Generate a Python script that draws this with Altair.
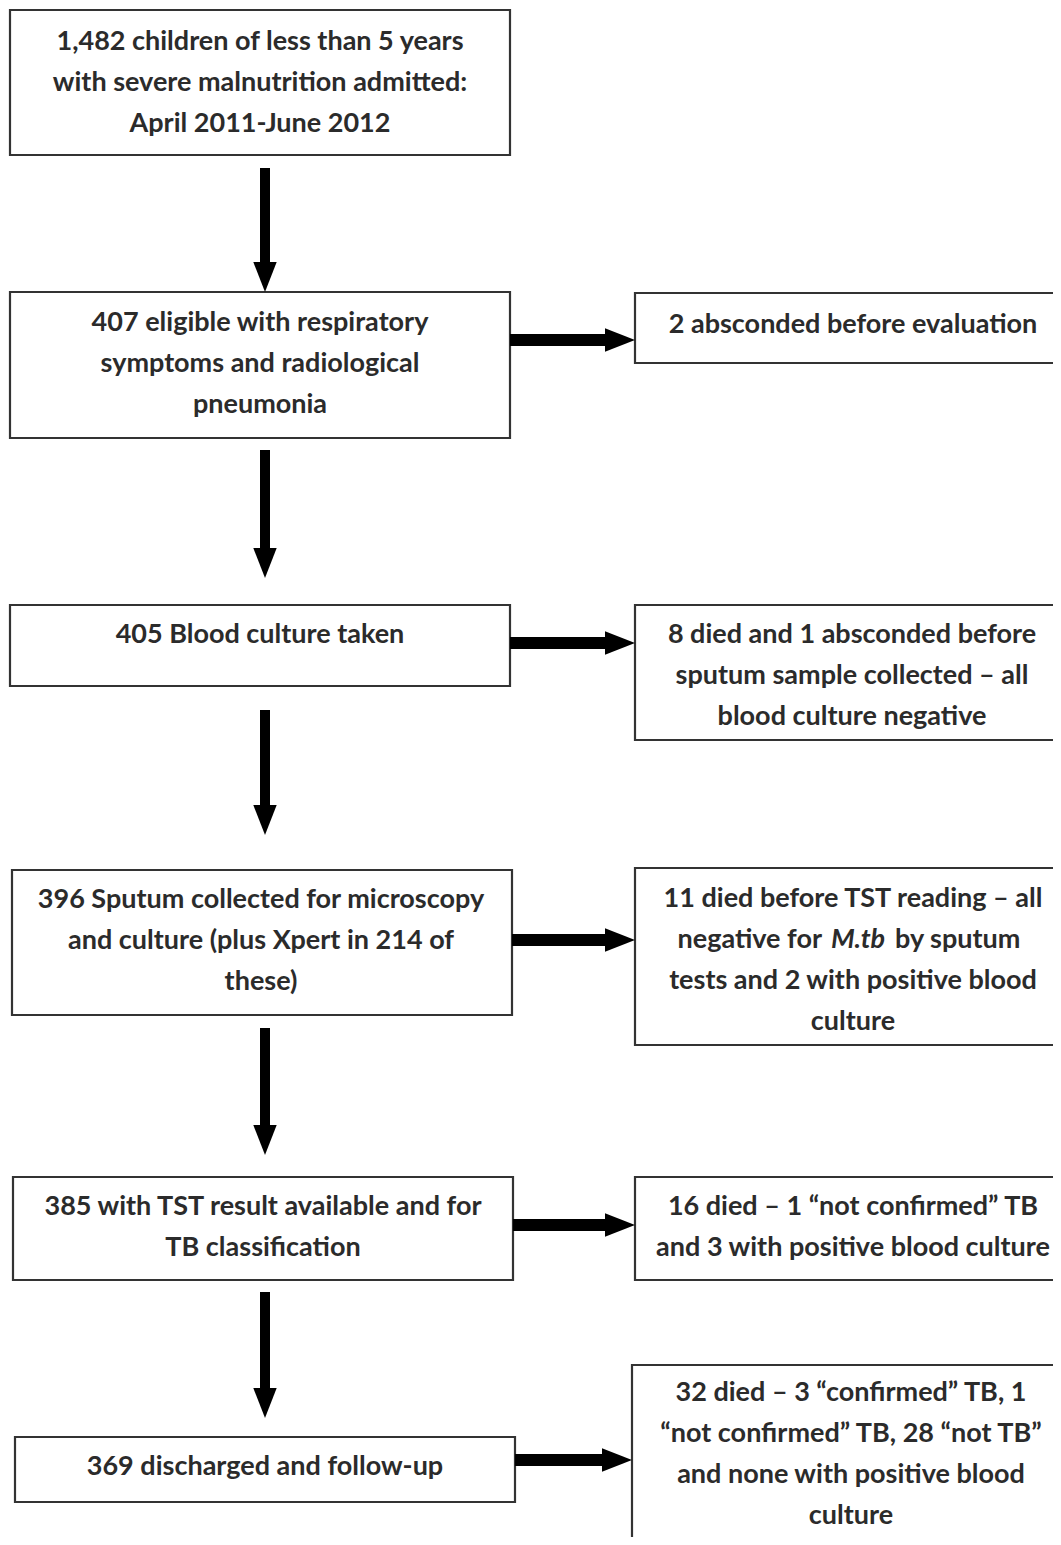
import altair as alt
import pandas as pd

# ---- flowchart content ----
main_lines = [
    ["1,482 children of less than 5 years", "with severe malnutrition admitted:", "April 2011-June 2012"],
    ["407 eligible with respiratory", "symptoms and radiological", "pneumonia"],
    ["405 Blood culture taken"],
    ["396 Sputum collected for microscopy", "and culture (plus Xpert in 214 of", "these)"],
    ["385 with TST result available and for", "TB classification"],
    ["369 discharged and follow-up"],
]
side_lines = [
    None,
    ["2 absconded before evaluation"],
    ["8 died and 1 absconded before", "sputum sample collected \u2013 all", "blood culture negative"],
    ["11 died before TST reading \u2013 all", None, "tests and 2 with positive blood", "culture"],
    ["16 died \u2013 1 \u201cnot confirmed\u201d TB", "and 3 with positive blood culture"],
    ["32 died \u2013 3 \u201cconfirmed\u201d TB, 1", "\u201cnot confirmed\u201d TB, 28 \u201cnot TB\u201d",
     "and none with positive blood", "culture"],
]
# mixed-style line (italic organism name): "negative for M.tb by sputum"
mixed_before = "negative for"
mixed_italic = "M.tb"
mixed_after = "by sputum"

# ---- layout (image pixel coordinates) ----
main_x1 = [10, 10, 10, 12, 13, 15]
main_x2 = [510, 510, 510, 512, 513, 515]
main_y1 = [10, 292, 605, 870, 1177, 1437]
main_y2 = [155, 438, 686, 1015, 1280, 1502]
main_tx = [260, 260, 260, 261, 263, 265]
main_ty0 = [42, 323, 635, 900, 1207, 1467]

side_x1 = [None, 635, 635, 635, 635, 632]
side_y1 = [None, 293, 605, 868, 1177, 1365]
side_y2 = [None, 363, 740, 1045, 1280, 1560]
side_tx = [None, 853, 852, 853, 853, 851]
side_ty0 = [None, 325, 635, 899, 1207, 1393]
line_gap = 41
mixed_x = [822, 858, 895]  # right edge / centre / left edge of the three pieces

down_x = [265, 265, 265, 265, 265]
down_y0 = [168, 450, 710, 1028, 1292]
down_tip = [292, 578, 835, 1155, 1418]

right_y = [340, 643, 940, 1225, 1460]
right_x0 = [510, 510, 512, 513, 515]
right_tip = [635, 635, 635, 635, 632]

HEAD = 30
FONT = "Lato"
FS = 27
FW = "bold"
TXT = "#2b2b2b"

# ---- tables ----
rects = []
texts = []
for i in range(6):
    rects.append(dict(x=main_x1[i], x2=main_x2[i], y=main_y1[i], y2=main_y2[i]))
    for j, t in enumerate(main_lines[i]):
        texts.append(dict(x=main_tx[i], y=main_ty0[i] + j * line_gap, t=t))
    if side_lines[i] is not None:
        rects.append(dict(x=side_x1[i], x2=1070, y=side_y1[i], y2=side_y2[i]))
        for j, t in enumerate(side_lines[i]):
            if t is not None:
                texts.append(dict(x=side_tx[i], y=side_ty0[i] + j * line_gap, t=t))

mixed_y = side_ty0[3] + line_gap
mixed_left = pd.DataFrame([dict(x=mixed_x[0], y=mixed_y, t=mixed_before)])
mixed_mid = pd.DataFrame([dict(x=mixed_x[1], y=mixed_y, t=mixed_italic)])
mixed_right = pd.DataFrame([dict(x=mixed_x[2], y=mixed_y, t=mixed_after)])

shafts = []
heads_down = []
heads_right = []
for i in range(5):
    shafts.append(dict(x=down_x[i], x2=down_x[i], y=down_y0[i], y2=down_tip[i] - HEAD + 2, w=10))
    heads_down.append(dict(x=down_x[i], y=down_tip[i] - HEAD / 2))
    shafts.append(dict(x=right_x0[i], x2=right_tip[i] - HEAD + 2, y=right_y[i], y2=right_y[i], w=12))
    heads_right.append(dict(x=right_tip[i] - HEAD / 2, y=right_y[i]))

rect_df = pd.DataFrame(rects)
text_df = pd.DataFrame(texts)
shaft_df = pd.DataFrame(shafts)
hd_df = pd.DataFrame(heads_down)
hr_df = pd.DataFrame(heads_right)

W, H = 1045, 1529
xs = alt.Scale(domain=[8, 8 + W], range=[0, W], nice=False, zero=False)
ys = alt.Scale(domain=[8, 8 + H], range=[0, H], nice=False, zero=False)

X = lambda f="x": alt.X(f + ":Q", scale=xs, axis=None)
Y = lambda f="y": alt.Y(f + ":Q", scale=ys, axis=None)

box_layer = alt.Chart(rect_df).mark_rect(
    fill="white", fillOpacity=0, stroke="#333333", strokeWidth=2.2
).encode(x=X(), x2="x2:Q", y=Y(), y2="y2:Q")

shaft_v = alt.Chart(shaft_df[shaft_df.w == 10]).mark_rule(
    color="black", strokeWidth=10, strokeCap="butt"
).encode(x=X(), x2="x2:Q", y=Y(), y2="y2:Q")
shaft_h = alt.Chart(shaft_df[shaft_df.w == 12]).mark_rule(
    color="black", strokeWidth=12, strokeCap="butt"
).encode(x=X(), x2="x2:Q", y=Y(), y2="y2:Q")

head_d = alt.Chart(hd_df).mark_point(
    shape="M-0.78,-1L0.78,-1L0,1Z", filled=True, color="black", opacity=1, size=HEAD * HEAD
).encode(x=X(), y=Y())
head_r = alt.Chart(hr_df).mark_point(
    shape="M-1,-0.78L1,0L-1,0.78Z", filled=True, color="black", opacity=1, size=HEAD * HEAD
).encode(x=X(), y=Y())

common = dict(font=FONT, fontSize=FS, fontWeight=FW, color=TXT, baseline="middle")
text_layer = alt.Chart(text_df).mark_text(align="center", **common).encode(
    x=X(), y=Y(), text="t:N")
t_left = alt.Chart(mixed_left).mark_text(align="right", **common).encode(
    x=X(), y=Y(), text="t:N")
t_mid = alt.Chart(mixed_mid).mark_text(align="center", fontStyle="italic", **common).encode(
    x=X(), y=Y(), text="t:N")
t_right = alt.Chart(mixed_right).mark_text(align="left", **common).encode(
    x=X(), y=Y(), text="t:N")

chart = alt.layer(
    box_layer, shaft_v, shaft_h, head_d, head_r, text_layer, t_left, t_mid, t_right
).properties(
    width=W, height=H, autosize=alt.AutoSizeParams(type="none"), padding=0,
    background="white"
).configure_view(stroke=None)

chart.save("out.html", embed_options={"renderer": "svg", "actions": False})
